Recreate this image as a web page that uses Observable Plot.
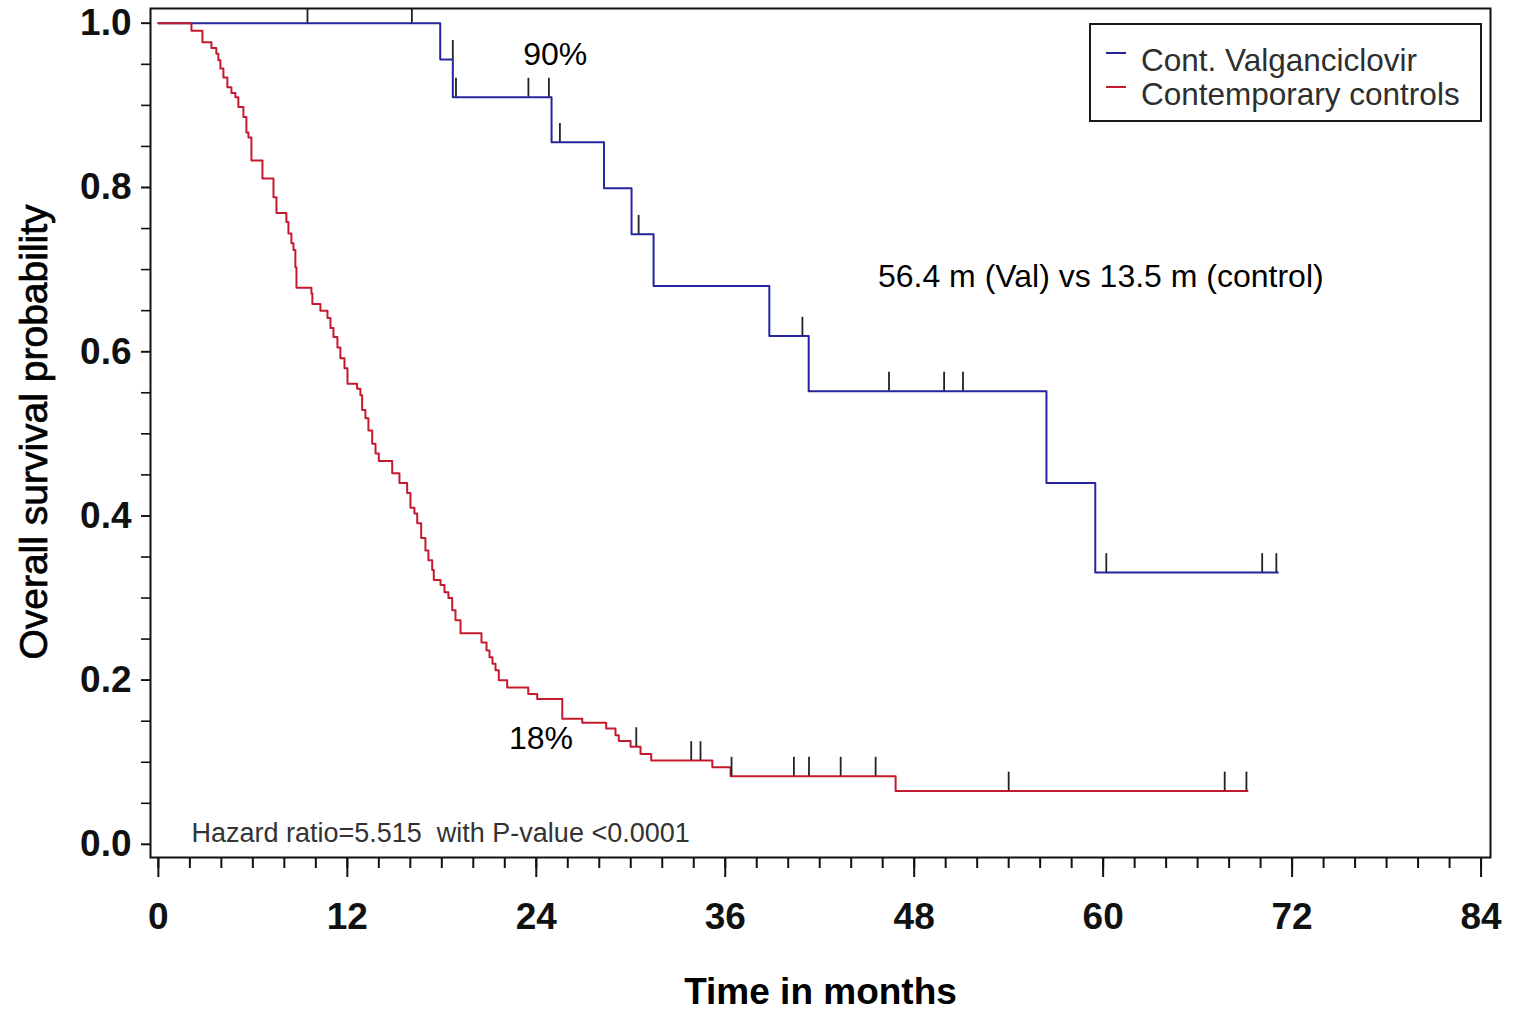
<!DOCTYPE html>
<html>
<head>
<meta charset="utf-8">
<script src="https://cdn.jsdelivr.net/npm/d3@7"></script>
<script src="https://cdn.jsdelivr.net/npm/@observablehq/plot@0.6"></script>
<style>
  html, body { margin: 0; padding: 0; background: #fff; }
  #wrap { position: relative; width: 1516px; height: 1013px; font-family: "Liberation Sans", Arial, sans-serif; }
  #legend { position: absolute; left: 1089px; top: 23px; width: 389px; height: 95px; border: 2px solid #1a1a1a; background: #fff; }
  .li { position: absolute; left: 50px; font-size: 31.5px; color: #2e2e2e; white-space: nowrap; }
  .sw { position: absolute; left: 15px; width: 20px; height: 2px; }
  #ytitle { position: absolute; left: 33px; top: 432px; transform: translate(-50%, -50%) rotate(-90deg);
            font-size: 39px; white-space: nowrap; color: #000; -webkit-text-stroke: 0.7px #000; line-height: 1; }
</style>
</head>
<body>
<div id="wrap"></div>
<script>
// ---- Data ----
// Cont. Valganciclovir: times of steps (months) and survival after each step
const valTimes = [0, 17.9, 18.7, 24.97, 28.3, 30.05, 31.45, 38.8, 41.3, 56.4, 59.5, 71.1];
const valSurv  = [1, 0.956, 0.910, 0.855, 0.799, 0.743, 0.680, 0.619, 0.552, 0.440, 0.331, 0.331];
// censored observations (Valganciclovir)
const valCensorT = [9.47, 16.1, 18.7, 18.9, 23.5, 24.8, 25.5, 30.5, 40.9, 46.4, 49.9, 51.1, 60.2, 70.1, 71.0];
const valCensorS = [1.0, 1.0, 0.956, 0.910, 0.910, 0.910, 0.855, 0.743, 0.619, 0.552, 0.552, 0.552, 0.331, 0.331, 0.331];

// Contemporary controls
const ctrlTimes = [0, 2.10, 2.80, 3.37, 3.68, 3.81, 3.94, 4.13, 4.38, 4.64, 4.89, 5.08, 5.40, 5.59, 5.72, 5.91,
  6.61, 7.31, 7.50, 8.13, 8.26, 8.45, 8.58, 8.70, 8.77, 9.72, 9.78, 10.29, 10.74, 10.93, 11.12, 11.37, 11.56,
  11.82, 12.01, 12.62, 12.83, 12.94, 13.15, 13.34, 13.58, 13.79, 14.0, 14.85, 15.31, 15.80, 16.01, 16.26, 16.44,
  16.69, 16.96, 17.15, 17.39, 17.49, 17.92, 18.17, 18.42, 18.66, 18.87, 19.19, 20.52, 20.84, 21.03, 21.22, 21.41,
  21.62, 22.15, 23.49, 24.06, 25.65, 26.92, 28.44, 29.03, 29.24, 29.99, 30.62, 31.30, 35.18, 36.34, 46.82, 69.17];
const ctrlSurv = [1, 0.991, 0.977, 0.970, 0.963, 0.955, 0.945, 0.934, 0.922, 0.915, 0.910, 0.898, 0.886, 0.867, 0.861, 0.833,
  0.811, 0.788, 0.769, 0.758, 0.744, 0.732, 0.724, 0.703, 0.678, 0.671, 0.658, 0.650, 0.641, 0.629, 0.618, 0.605, 0.592,
  0.580, 0.561, 0.555, 0.547, 0.529, 0.519, 0.504, 0.488, 0.476, 0.467, 0.452, 0.440, 0.428, 0.410, 0.403, 0.391,
  0.373, 0.358, 0.346, 0.334, 0.322, 0.316, 0.307, 0.300, 0.285, 0.273, 0.257, 0.246, 0.236, 0.228, 0.220, 0.212,
  0.200, 0.191, 0.183, 0.177, 0.153, 0.148, 0.141, 0.133, 0.126, 0.119, 0.110, 0.102, 0.094, 0.083, 0.065, 0.065];
const ctrlCensorT = [30.35, 33.84, 34.43, 36.4, 40.36, 41.32, 43.33, 45.55, 54.0, 67.72, 69.1];
const ctrlCensorS = [0.119, 0.102, 0.102, 0.083, 0.083, 0.083, 0.083, 0.083, 0.065, 0.065, 0.065];

const seriesNames = ["Cont. Valganciclovir", "Contemporary controls"];
const seriesColors = ["#25259e", "#c41a2c"];

const xMajorTicks = [0, 12, 24, 36, 48, 60, 72, 84];
const xMinorTicks = d3.range(0, 85, 2);
const yMajorTicks = [0, 0.2, 0.4, 0.6, 0.8, 1.0];
const yMinorTicks = d3.range(0, 21).map(i => i * 0.05);

const annoText = ["90%", "18%", "56.4 m (Val) vs 13.5 m (control)"];
const annoT = [25.2, 24.3, 59.85];
const annoS = [0.962, 0.129, 0.691];
const hazardText = "Hazard ratio=5.515  with P-value <0.0001";
const hazardT = 2.1, hazardS = 0.013;
const xTitle = "Time in months";
const yTitle = "Overall survival probability";
const censorLen = 0.023;

// ---- Build tables ----
const valLine = valTimes.map((t, i) => ({t, s: valSurv[i]}));
const ctrlLine = ctrlTimes.map((t, i) => ({t, s: ctrlSurv[i]}));
const valCens = valCensorT.map((t, i) => ({t, s: valCensorS[i]}));
const ctrlCens = ctrlCensorT.map((t, i) => ({t, s: ctrlCensorS[i]}));
const annos = annoText.map((text, i) => ({text, t: annoT[i], s: annoS[i]}));

const chart = Plot.plot({
  width: 1516,
  height: 1013,
  marginLeft: 150,
  marginRight: 26,
  marginTop: 8,
  marginBottom: 156,
  style: {fontFamily: "'Liberation Sans', Arial, sans-serif", background: "#fff", color: "#111"},
  x: {domain: [-0.5, 84.6]},
  y: {domain: [-0.016, 1.018]},
  marks: [
    Plot.axisX({ticks: xMinorTicks, tickSize: 11, tickFormat: () => "", label: null, strokeWidth: 2}),
    Plot.axisX({ticks: xMajorTicks, tickSize: 20, tickPadding: 25, tickFormat: d => String(d), label: null,
      fontSize: 37, fontWeight: "bold", strokeWidth: 2}),
    Plot.axisY({ticks: yMinorTicks, tickSize: 9, tickFormat: () => "", label: null, strokeWidth: 1.6}),
    Plot.axisY({ticks: yMajorTicks, tickSize: 9, tickPadding: 10, tickFormat: d3.format(".1f"), label: null,
      fontSize: 37, fontWeight: "bold", strokeWidth: 1.6}),
    Plot.line(valLine, {x: "t", y: "s", curve: "step-after", stroke: seriesColors[0], strokeWidth: 2}),
    Plot.line(ctrlLine, {x: "t", y: "s", curve: "step-after", stroke: seriesColors[1], strokeWidth: 2}),
    Plot.ruleX(valCens, {x: "t", y1: "s", y2: d => d.s + censorLen, stroke: "#222", strokeWidth: 1.8, clip: true}),
    Plot.ruleX(ctrlCens, {x: "t", y1: "s", y2: d => d.s + censorLen, stroke: "#222", strokeWidth: 1.8, clip: true}),
    Plot.text(annos, {x: "t", y: "s", text: "text", fontSize: 32, fill: "#000"}),
    Plot.text([hazardText], {x: () => hazardT, y: () => hazardS, textAnchor: "start", fontSize: 27, fill: "#333"}),
    Plot.text([xTitle], {frameAnchor: "bottom", dy: 146, fontSize: 37, fontWeight: "bold", fill: "#000"}),
    Plot.frame({stroke: "#111", strokeWidth: 2})
  ]
});

const wrap = document.getElementById("wrap");
wrap.appendChild(chart);

// y axis title
const yt = document.createElement("div");
yt.id = "ytitle";
yt.textContent = yTitle;
wrap.appendChild(yt);

// legend (inside plot frame, top-right)
const legend = document.createElement("div");
legend.id = "legend";
seriesNames.forEach((name, i) => {
  const sw = document.createElement("div");
  sw.className = "sw";
  sw.style.top = (27 + i * 34) + "px";
  sw.style.background = seriesColors[i];
  legend.appendChild(sw);
  const lab = document.createElement("div");
  lab.className = "li";
  lab.style.top = (17 + i * 34) + "px";
  lab.textContent = name;
  legend.appendChild(lab);
});
wrap.appendChild(legend);
</script>
</body>
</html>
